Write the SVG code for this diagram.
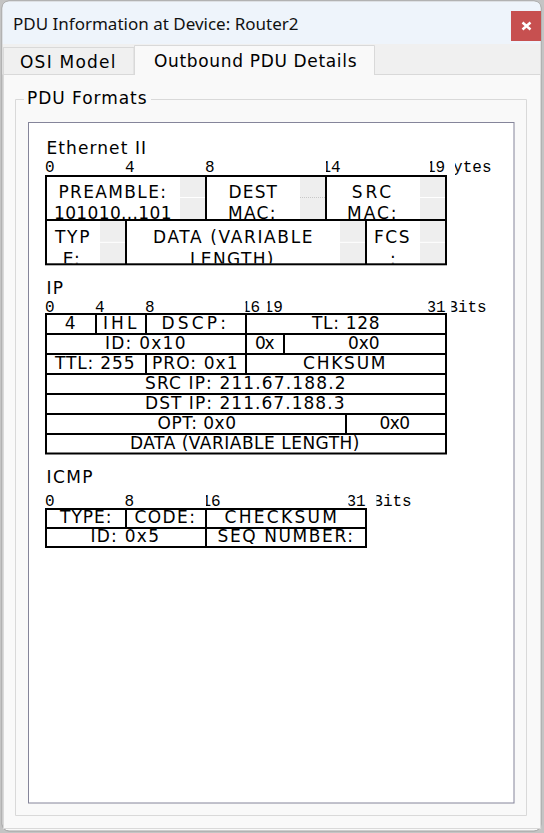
<svg xmlns="http://www.w3.org/2000/svg" width="544" height="833" viewBox="0 0 544 833">
<defs>
<style>
.t{font-family:"DejaVu Sans",Verdana,sans-serif;font-size:17px;fill:#000;letter-spacing:0.5px}
.m{text-anchor:middle}
.k{font-family:"Liberation Mono","Courier New",monospace;font-size:16px;fill:#000}
.ln{stroke:#000;stroke-width:2;fill:none}
.gb{fill:#eeeeee}
.gl{stroke:#ffffff;stroke-width:1}
</style>
<clipPath id="cE14"><rect x="326" y="150" width="40" height="30"/></clipPath>
<clipPath id="cE19"><rect x="430" y="150" width="40" height="30"/></clipPath>
<clipPath id="cEB"><rect x="455" y="150" width="60" height="30"/></clipPath>
<clipPath id="cI16"><rect x="245.5" y="295" width="30" height="20"/></clipPath>
<clipPath id="cI19"><rect x="267.5" y="295" width="30" height="20"/></clipPath>
<clipPath id="cI31"><rect x="428.5" y="295" width="30" height="20"/></clipPath>
<clipPath id="cIB"><rect x="451.5" y="295" width="60" height="20"/></clipPath>
<clipPath id="cC16"><rect x="206" y="490" width="30" height="20"/></clipPath>
<clipPath id="cC31"><rect x="348.5" y="490" width="30" height="20"/></clipPath>
<clipPath id="cCB"><rect x="376.5" y="490" width="60" height="20"/></clipPath>
<clipPath id="cR1"><rect x="46" y="177" width="400" height="42"/></clipPath>
<clipPath id="cR2"><rect x="46" y="221" width="400" height="42.5"/></clipPath>
</defs>

<g id="window">
<rect x="0" y="0" width="544" height="833" fill="#c4c4c4"/>
<rect x="2" y="1" width="539" height="830" rx="7" fill="#f9f9f9" stroke="#a0a0a0"/>
<path d="M2.5,44 V8 Q2.5,1.5 9,1.5 H534 Q540.5,1.5 540.5,8 V44 Z" fill="#eef4fb"/>
<text x="13" y="30" font-family="'Noto Sans','Open Sans',sans-serif" font-size="17" fill="#111">PDU Information at Device: Router2</text>
<g id="close-button">
<rect x="511" y="11" width="30" height="30" fill="#c75050"/>
<path d="M522.5,22.5 L530.5,29.5 M530.5,22.5 L522.5,29.5" stroke="#ffffff" stroke-width="2.5"/>
</g>
</g>

<g id="tabs">
<rect x="2.5" y="44" width="538" height="30.5" fill="#f0f0f0"/>
<rect x="3.5" y="47.5" width="130.5" height="27" fill="#f0f0f0" stroke="#d9d9d9"/>
<text class="t" x="20" y="67.5" textLength="96">OSI Model</text>
<rect x="3.5" y="74.5" width="537" height="754" fill="#f9f9f9" stroke="#d9d9d9"/>
<path d="M134.5,75 V45.5 H374.5 V75" fill="#f9f9f9" stroke="#d9d9d9"/>
<line x1="135" y1="74.5" x2="374" y2="74.5" stroke="#f9f9f9" stroke-width="1.5"/>
<text class="t" x="154" y="66.5" textLength="203">Outbound PDU Details</text>
</g>

<g id="pdu-formats">
<path d="M24,99.5 H15.5 V815.5 H526.5 V99.5 H151" fill="none" stroke="#d9d9d9"/>
<text class="t" x="27" y="104.3" textLength="120">PDU Formats</text>
<rect x="28.5" y="122.5" width="485.5" height="680.5" fill="#ffffff" stroke="#85859a"/>
</g>

<g id="ethernet">
<text class="t" x="46.5" y="154" textLength="100">Ethernet II</text>
<text class="k" x="45" y="172">0</text>
<text class="k" x="125" y="172">4</text>
<text class="k" x="205" y="172">8</text>
<text class="k" x="321.5" y="172" clip-path="url(#cE14)">14</text>
<text class="k" x="426" y="172" clip-path="url(#cE19)">19</text>
<text class="k" x="443.5" y="172" clip-path="url(#cEB)">Bytes</text>
<g id="eth-scroll">
<rect class="gb" x="180" y="177" width="25" height="42"/>
<rect class="gb" x="300" y="177" width="25" height="42"/>
<rect class="gb" x="420" y="177" width="25" height="42"/>
<line class="gl" x1="180" y1="197.5" x2="205" y2="197.5"/>
<line x1="300" y1="197.5" x2="325" y2="197.5" stroke="#c8c8c8" stroke-width="1" stroke-dasharray="1,1"/>
<line class="gl" x1="420" y1="197.5" x2="445" y2="197.5"/>
<rect class="gb" x="100" y="221" width="25" height="42"/>
<rect class="gb" x="340" y="221" width="25" height="42"/>
<rect class="gb" x="420" y="221" width="25" height="42"/>
<line class="gl" x1="100" y1="242.3" x2="125" y2="242.3"/>
<line class="gl" x1="340" y1="242.3" x2="365" y2="242.3"/>
<line class="gl" x1="420" y1="242.3" x2="445" y2="242.3"/>
</g>
<g clip-path="url(#cR1)">
<text class="t m" x="112.5" y="197.5" textLength="108">PREAMBLE:</text>
<text class="t m" x="113" y="219" textLength="118">101010...101</text>
<text class="t m" x="253" y="197.5" textLength="49">DEST</text>
<text class="t m" x="252" y="219" textLength="48">MAC:</text>
<text class="t m" x="371.7" y="197.5" textLength="40">SRC</text>
<text class="t m" x="372" y="219" textLength="50">MAC:</text>
</g>
<g clip-path="url(#cR2)">
<text class="t m" x="72.5" y="243.3" textLength="35">TYP</text>
<text class="t m" x="71.5" y="264.8">E:</text>
<text class="t m" x="233" y="243.3" textLength="160">DATA (VARIABLE</text>
<text class="t m" x="232" y="264.8" textLength="84">LENGTH)</text>
<text class="t m" x="392" y="243.3" textLength="36">FCS</text>
<text class="t m" x="393" y="264.8">:</text>
</g>
<rect class="ln" x="46" y="176" width="400" height="88.3"/>
<path class="ln" d="M46,220 H446 M206,176 V220 M326,176 V220 M126,220 V264 M366,220 V264"/>
</g>

<g id="ip">
<text class="t" x="46.5" y="294.3" textLength="17">IP</text>
<text class="k" x="45" y="312">0</text>
<text class="k" x="95" y="312">4</text>
<text class="k" x="145" y="312">8</text>
<text class="k" x="241" y="312" clip-path="url(#cI16)">16</text>
<text class="k" x="263.6" y="312" clip-path="url(#cI19)">19</text>
<text class="k" x="426.5" y="312" clip-path="url(#cI31)">31</text>
<text class="k" x="448.3" y="312" clip-path="url(#cIB)">Bits</text>
<text class="t m" x="70.5" y="329.3">4</text>
<text class="t m" x="120" y="329.3" textLength="34">IHL</text>
<text class="t m" x="194" y="329.3" textLength="65">DSCP:</text>
<text class="t m" x="346" y="329.3" textLength="68">TL: 128</text>
<text class="t m" x="145.5" y="349.3" textLength="81">ID: 0x10</text>
<text class="t m" x="265" y="349.3" textLength="20">0x</text>
<text class="t m" x="364" y="349.3" textLength="32">0x0</text>
<text class="t m" x="95" y="369.3" textLength="80">TTL: 255</text>
<text class="t m" x="195" y="369.3" textLength="86">PRO: 0x1</text>
<text class="t m" x="344.5" y="369.3" textLength="83">CHKSUM</text>
<text class="t m" x="245.5" y="389.3" textLength="201">SRC IP: 211.67.188.2</text>
<text class="t m" x="245" y="409.3" textLength="200">DST IP: 211.67.188.3</text>
<text class="t m" x="197" y="429.3" textLength="79">OPT: 0x0</text>
<text class="t m" x="395" y="429.3" textLength="31">0x0</text>
<text class="t m" x="245" y="449.3" textLength="230">DATA (VARIABLE LENGTH)</text>
<rect class="ln" x="46" y="314" width="400" height="139.5"/>
<path class="ln" d="M46,334 H446 M46,354 H446 M46,374 H446 M46,394 H446 M46,414 H446 M46,434 H446 M96,314 V334 M146,314 V334 M246,314 V354 M284,334 V354 M146,354 V374 M246,354 V374 M346,414 V434"/>
</g>

<g id="icmp">
<text class="t" x="46.5" y="483.3" textLength="46.6">ICMP</text>
<text class="k" x="45" y="505.7">0</text>
<text class="k" x="124.5" y="505.7">8</text>
<text class="k" x="201.5" y="505.7" clip-path="url(#cC16)">16</text>
<text class="k" x="346.5" y="505.7" clip-path="url(#cC31)">31</text>
<text class="k" x="373.3" y="505.7" clip-path="url(#cCB)">Bits</text>
<text class="t m" x="86" y="523.3" textLength="52">TYPE:</text>
<text class="t m" x="165" y="523.3" textLength="61">CODE:</text>
<text class="t m" x="281" y="523.3" textLength="113">CHECKSUM</text>
<text class="t m" x="125" y="542.3" textLength="69">ID: 0x5</text>
<text class="t m" x="285.5" y="542.3" textLength="136">SEQ NUMBER:</text>
<rect class="ln" x="46" y="509" width="320" height="38"/>
<path class="ln" d="M46,528 H366 M126,509 V528 M206,509 V547"/>
</g>
</svg>
